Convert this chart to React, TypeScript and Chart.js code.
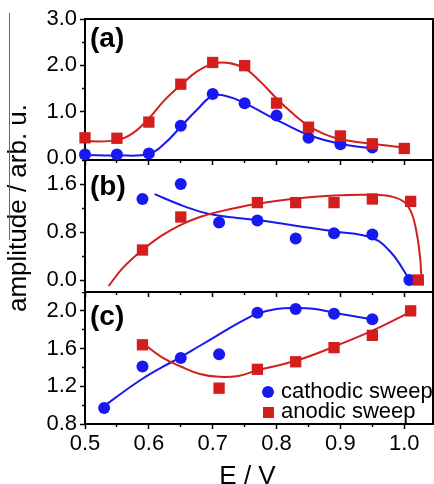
import React, { useEffect, useRef } from "react";
import { Chart, registerables } from "chart.js";

Chart.register(...registerables);

const FONT = "'Liberation Sans', Arial, Helvetica, sans-serif";
const RED = "#d41e1e";
const BLUE = "#1818f0";

const X_MIN = 0.5;
const X_MAX = 1.045;
const X_STEP = 0.05;
const X_MAJOR = 0.1;

// ---------- Panel (a) ----------
const aAnodicE = [0.5, 0.55, 0.6, 0.65, 0.7, 0.75, 0.8, 0.85, 0.9, 0.95, 1.0];
const aAnodic = [0.43, 0.42, 0.77, 1.59, 2.06, 1.99, 1.18, 0.66, 0.47, 0.3, 0.2];
const aCathodicE = [0.5, 0.55, 0.6, 0.65, 0.7, 0.75, 0.8, 0.85, 0.9, 0.95];
const aCathodic = [0.07, 0.07, 0.09, 0.69, 1.38, 1.18, 0.91, 0.43, 0.29, 0.22];
const aAnodicFitE = [0.5, 0.55, 0.575, 0.6, 0.625, 0.65, 0.675, 0.7, 0.725, 0.75, 0.775, 0.8, 0.825, 0.85, 0.875, 0.9, 0.95, 1.0];
const aAnodicFit = [0.35, 0.38, 0.53, 0.85, 1.25, 1.57, 1.86, 2.03, 2.05, 1.93, 1.64, 1.28, 0.96, 0.69, 0.51, 0.4, 0.3, 0.22];
const aCathodicFitE = [0.5, 0.55, 0.6, 0.625, 0.65, 0.675, 0.7, 0.725, 0.75, 0.8, 0.85, 0.9, 0.95];
const aCathodicFit = [0.06, 0.05, 0.08, 0.31, 0.67, 1.03, 1.34, 1.32, 1.18, 0.82, 0.49, 0.3, 0.2];

// ---------- Panel (b) ----------
const bAnodicE = [0.59, 0.65, 0.77, 0.83, 0.89, 0.95, 1.01, 1.022];
const bAnodic = [0.5, 1.05, 1.29, 1.29, 1.29, 1.35, 1.31, 0.0];
const bCathodicE = [0.59, 0.65, 0.71, 0.77, 0.83, 0.89, 0.95, 1.008];
const bCathodic = [1.35, 1.6, 0.96, 0.99, 0.69, 0.78, 0.76, 0.0];
const bAnodicFitE = [0.537, 0.56, 0.59, 0.62, 0.65, 0.68, 0.71, 0.77, 0.83, 0.89, 0.95, 0.98, 1.0, 1.012, 1.02, 1.025, 1.027];
const bAnodicFit = [-0.1, 0.21, 0.5, 0.74, 0.92, 1.05, 1.14, 1.27, 1.36, 1.41, 1.42, 1.39, 1.3, 1.1, 0.75, 0.35, 0.0];
const bCathodicFitE = [0.609, 0.65, 0.68, 0.71, 0.77, 0.83, 0.89, 0.95, 0.98, 1.008];
const bCathodicFit = [1.43, 1.25, 1.14, 1.07, 1.0, 0.905, 0.81, 0.7, 0.45, 0.01];

// ---------- Panel (c) ----------
const cAnodicE = [0.59, 0.71, 0.77, 0.83, 0.89, 0.95, 1.01];
const cAnodic = [1.64, 1.18, 1.38, 1.46, 1.61, 1.74, 2.0];
const cCathodicE = [0.53, 0.59, 0.65, 0.71, 0.77, 0.83, 0.89, 0.95];
const cCathodic = [0.97, 1.41, 1.5, 1.54, 1.98, 2.02, 1.97, 1.91];
const cAnodicFitE = [0.59, 0.62, 0.65, 0.68, 0.71, 0.74, 0.77, 0.83, 0.89, 0.95, 1.01];
const cAnodicFit = [1.66, 1.51, 1.41, 1.33, 1.3, 1.31, 1.37, 1.47, 1.62, 1.79, 1.99];
const cCathodicFitE = [0.53, 0.56, 0.59, 0.62, 0.65, 0.68, 0.71, 0.74, 0.77, 0.8, 0.83, 0.86, 0.89, 0.95];
const cCathodicFit = [0.99, 1.14, 1.28, 1.4, 1.51, 1.63, 1.75, 1.87, 1.97, 2.02, 2.03, 2.02, 1.98, 1.91];

const SERIES_LABELS = ["cathodic sweep", "anodic sweep"];
const PANEL_LABELS = ["(a)", "(b)", "(c)"];
const X_TITLE = "E / V";
const Y_TITLE = "amplitude / arb. u.";

type Panel = {
  name: string;
  top: number;
  height: number;
  plotTop: number;
  plotBottom: number;
  yMin: number;
  yMax: number;
  yStep: number;
  yMajor: number;
  showX: boolean;
  anodE: number[];
  anod: number[];
  cathE: number[];
  cath: number[];
  anodFitE: number[];
  anodFit: number[];
  cathFitE: number[];
  cathFit: number[];
};

const PANELS: Panel[] = [
  {
    name: "a", top: 0, height: 175, plotTop: 19, plotBottom: 160,
    yMin: -0.05, yMax: 3.0, yStep: 0.5, yMajor: 1.0, showX: false,
    anodE: aAnodicE, anod: aAnodic, cathE: aCathodicE, cath: aCathodic,
    anodFitE: aAnodicFitE, anodFit: aAnodicFit, cathFitE: aCathodicFitE, cathFit: aCathodicFit,
  },
  {
    name: "b", top: 160, height: 145, plotTop: 0, plotBottom: 132,
    yMin: -0.2, yMax: 2.0, yStep: 0.4, yMajor: 0.8, showX: false,
    anodE: bAnodicE, anod: bAnodic, cathE: bCathodicE, cath: bCathodic,
    anodFitE: bAnodicFitE, anodFit: bAnodicFit, cathFitE: bCathodicFitE, cathFit: bCathodicFit,
  },
  {
    name: "c", top: 292, height: 192, plotTop: 0, plotBottom: 132,
    yMin: 0.8, yMax: 2.2, yStep: 0.2, yMajor: 0.4, showX: true,
    anodE: cAnodicE, anod: cAnodic, cathE: cCathodicE, cath: cCathodic,
    anodFitE: cAnodicFitE, anodFit: cAnodicFit, cathFitE: cCathodicFitE, cathFit: cCathodicFit,
  },
];

const PLOT_LEFT = 85;
const PLOT_RIGHT_PAD = 1;
const CANVAS_W = 434;

const pts = (xs: number[], ys: number[]) => xs.map((x, i) => ({ x, y: ys[i] }));
const isMajor = (v: number, step: number) => Math.abs(v / step - Math.round(v / step)) < 1e-6;

const framePlugin = {
  id: "frame",
  beforeDatasetsDraw(chart: any) {
    const { ctx, chartArea } = chart;
    const { left, top, right, bottom } = chartArea;
    ctx.save();
    ctx.strokeStyle = "#000";
    ctx.lineWidth = 2;
    ctx.strokeRect(left, top, right - left, bottom - top);
    ctx.restore();
  },
};

function zeroPad(s: any) {
  s.paddingLeft = 0;
  s.paddingRight = 0;
  s.paddingTop = 0;
  s.paddingBottom = 0;
}

function buildConfig(p: Panel): any {
  const marker = (label: string, xs: number[], ys: number[], style: string, r: number, color: string) => ({
    label,
    data: pts(xs, ys),
    showLine: false,
    pointStyle: style,
    pointRadius: r,
    pointHoverRadius: r,
    pointBackgroundColor: color,
    pointBorderColor: color,
    pointBorderWidth: 0,
    clip: false,
  });
  const fit = (label: string, xs: number[], ys: number[], color: string) => ({
    label,
    data: pts(xs, ys),
    showLine: true,
    pointRadius: 0,
    pointHoverRadius: 0,
    borderColor: color,
    borderWidth: 2,
    fill: false,
    tension: 0.4,
  });
  const tickFont = { family: FONT, size: 22 };
  return {
    type: "scatter",
    data: {
      datasets: [
        marker(SERIES_LABELS[1], p.anodE, p.anod, "rect", 8, RED),
        marker(SERIES_LABELS[0], p.cathE, p.cath, "circle", 6, BLUE),
        fit(SERIES_LABELS[1] + " fit", p.anodFitE, p.anodFit, RED),
        fit(SERIES_LABELS[0] + " fit", p.cathFitE, p.cathFit, BLUE),
      ],
    },
    options: {
      responsive: false,
      animation: false,
      devicePixelRatio: 1,
      events: [],
      layout: {
        autoPadding: false,
        padding: { top: p.plotTop, right: PLOT_RIGHT_PAD, left: 0, bottom: 0 },
      },
      plugins: { legend: { display: false }, tooltip: { enabled: false }, title: { display: false } },
      scales: {
        x: {
          type: "linear",
          position: "bottom",
          min: X_MIN,
          max: X_MAX,
          border: { display: false },
          grid: {
            drawOnChartArea: false,
            drawTicks: true,
            tickLength: 5,
            tickWidth: 1.5,
            tickColor: "#000",
            tickBorderDash: (ctx: any) => (isMajor(ctx.tick ? ctx.tick.value : 0, X_MAJOR) ? [] : [3, 100]),
          },
          ticks: {
            display: p.showX,
            stepSize: X_STEP,
            includeBounds: false,
            autoSkip: false,
            maxRotation: 0,
            minRotation: 0,
            padding: 2,
            color: "#000",
            font: tickFont,
            callback: (v: number) => (isMajor(v, X_MAJOR) ? v.toFixed(1) : ""),
          },
          afterFit: (s: any) => {
            s.height = p.height - p.plotBottom;
            zeroPad(s);
          },
        },
        y: {
          type: "linear",
          position: "left",
          min: p.yMin,
          max: p.yMax,
          border: { display: false },
          grid: {
            drawOnChartArea: false,
            drawTicks: true,
            tickLength: 5,
            tickWidth: 1.5,
            tickColor: "#000",
            tickBorderDash: (ctx: any) => (isMajor(ctx.tick ? ctx.tick.value : 0, p.yMajor) ? [] : [0, 2, 3, 100]),
          },
          ticks: {
            stepSize: p.yStep,
            includeBounds: false,
            autoSkip: false,
            padding: 3,
            color: "#000",
            font: tickFont,
            callback: (v: number) => (isMajor(v, p.yMajor) ? v.toFixed(1) : ""),
          },
          afterFit: (s: any) => {
            s.width = PLOT_LEFT;
            zeroPad(s);
          },
        },
      },
    },
    plugins: [framePlugin],
  };
}

function PanelChart({ panel }: { panel: Panel }) {
  const ref = useRef<HTMLCanvasElement | null>(null);
  useEffect(() => {
    if (!ref.current) return;
    const chart = new Chart(ref.current, buildConfig(panel));
    return () => chart.destroy();
  }, [panel]);
  return (
    <canvas
      ref={ref}
      width={CANVAS_W}
      height={panel.height}
      style={{ position: "absolute", left: 0, top: panel.top, width: CANVAS_W, height: panel.height }}
    />
  );
}

const txt = (left: number, top: number, size: number, bold = false): React.CSSProperties => ({
  position: "absolute",
  left,
  top,
  fontFamily: FONT,
  fontSize: size,
  fontWeight: bold ? "bold" : "normal",
  lineHeight: `${size}px`,
  whiteSpace: "nowrap",
  color: "#000",
});

const PANEL_LABEL_TOPS = [23.5, 172, 302];

export default function App() {
  return (
    <div
      style={{
        position: "fixed",
        left: 0,
        top: 0,
        width: 434,
        height: 484,
        overflow: "hidden",
        background: "#fff",
      }}
    >
      {PANELS.map((p) => (
        <PanelChart key={p.name} panel={p} />
      ))}

      {PANEL_LABELS.map((l, i) => (
        <div key={l} style={txt(90, PANEL_LABEL_TOPS[i], 28, true)}>
          {l}
        </div>
      ))}

      {/* legend */}
      <div
        style={{
          position: "absolute",
          left: 262,
          top: 386,
          width: 12,
          height: 12,
          borderRadius: "50%",
          background: BLUE,
        }}
      />
      <div style={txt(281, 380, 22)}>{SERIES_LABELS[0]}</div>
      <div
        style={{
          position: "absolute",
          left: 262.5,
          top: 406.5,
          width: 11,
          height: 11,
          background: RED,
        }}
      />
      <div style={txt(281, 399.5, 22)}>{SERIES_LABELS[1]}</div>

      {/* axis titles */}
      <div style={{ ...txt(247.5, 461.5, 26), transform: "translateX(-50%)" }}>{X_TITLE}</div>
      <div
        style={{
          ...txt(17, 208, 26),
          transform: "translate(-50%, -50%) rotate(-90deg)",
        }}
      >
        {Y_TITLE}
      </div>

      {/* thin stray line at the left edge of the source figure */}
      <div style={{ position: "absolute", left: 9, top: 13, width: 1, height: 227, background: "#666" }} />
    </div>
  );
}
